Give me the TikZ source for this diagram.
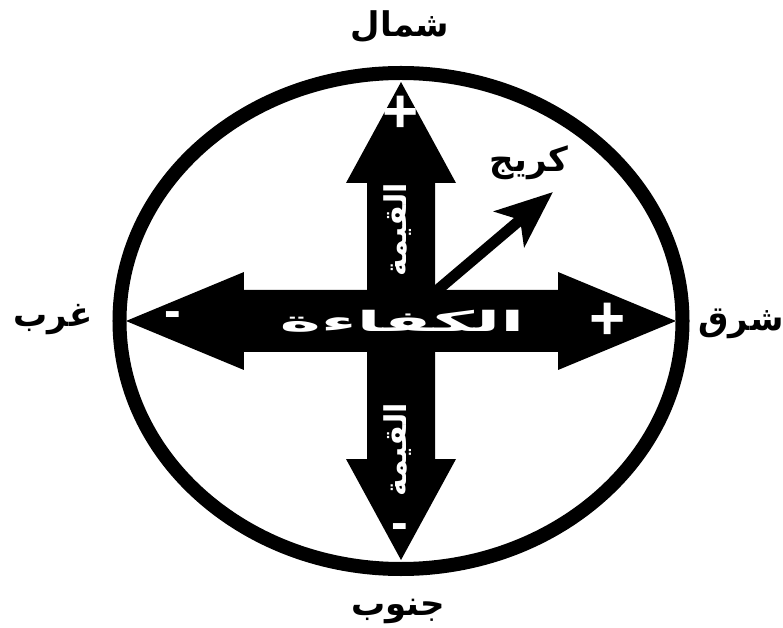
\documentclass[tikz,border=0pt]{standalone}
\usepackage{fontspec}
\usetikzlibrary{arrows.meta}
\TeXXeTstate=1
\newfontfamily\arabicfont[Script=Arabic]{DejaVu Sans}
\newfontfamily\signfont{Liberation Sans}

\begin{document}
\begin{tikzpicture}[x=1pt, y=1pt,
  dirlabel/.style={font=\arabicfont\bfseries\fontsize{34}{40}\selectfont},
  shafttext/.style={text=white, font=\arabicfont\bfseries\fontsize{30}{36}\selectfont},
  plussign/.style={text=white, inner sep=0pt, font=\signfont\bfseries\fontsize{62}{70}\selectfont},
  minussign/.style={text=white, inner sep=0pt, font=\signfont\bfseries\fontsize{50}{60}\selectfont}]
  \useasboundingbox (-401,-307) rectangle (382,321);

  % Outer circle
  \draw[line width=14pt] (0,0) ellipse [x radius=281.5pt, y radius=248pt];

  % Horizontal double arrow
  \fill (-275,0) -- (-157,49) -- (-157,31) -- (157,31) -- (157,49) -- (275,0)
    -- (157,-49) -- (157,-31) -- (-157,-31) -- (-157,-49) -- cycle;

  % Vertical double arrow
  \fill (0,239) -- (55,138) -- (34,138) -- (34,-138) -- (55,-138) -- (0,-239)
    -- (-55,-138) -- (-34,-138) -- (-34,138) -- (-55,138) -- cycle;

  % Diagonal arrow
  \coordinate (O) at (0,0);
  \coordinate (tip) at (152,129);
  \draw[line width=11pt, -{Stealth[length=57pt, width=46pt, inset=14pt]}] (O) -- (tip);

  % Labels on the arrows
  \node[shafttext, font=\arabicfont\bfseries\fontsize{28}{34}\selectfont, xscale=2.5] (eff) at (1,0) {\beginR الكفاءة\endR};
  \node[shafttext, rotate=90] (valtop) at (-3,91) {\beginR القيمة\endR};
  \node[shafttext, rotate=90] (valbot) at (-3,-129) {\beginR القيمة\endR};

  % Signs
  \node[plussign] (plusN) at (0,207) {+};
  \node[plussign] (plusE) at (207,0) {+};
  \node[minussign] (minusS) at (-1,-211) {-};
  \node[minussign] (minusW) at (-228,1) {-};

  % Directions
  \node[dirlabel] (north) at (-1,294) {\beginR شمال\endR};
  \node[dirlabel] (south) at (-3,-290) {\beginR جنوب\endR};
  \node[dirlabel] (west) at (-348,1) {\beginR غرب\endR};
  \node[dirlabel] (east) at (340,-3) {\beginR شرق\endR};
  \node[dirlabel] (wind) at (128,158) {\beginR كريج\endR};
\end{tikzpicture}
\end{document}
